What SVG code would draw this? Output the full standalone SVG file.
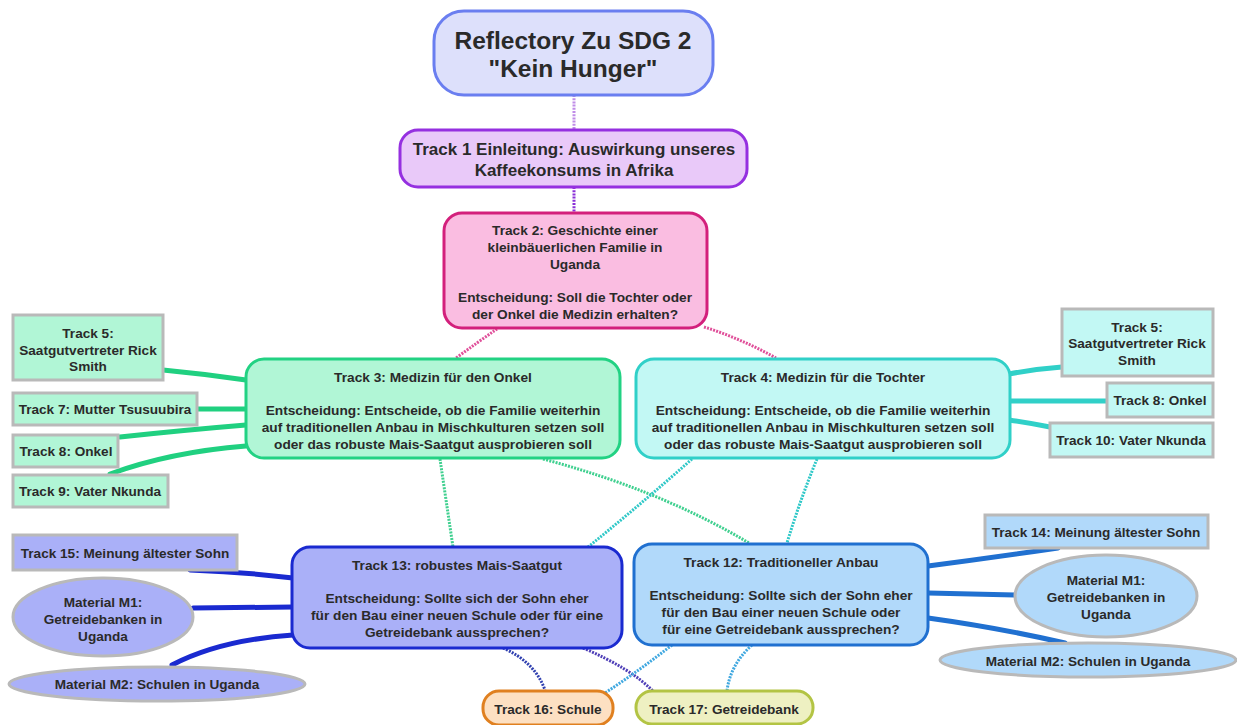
<svg xmlns="http://www.w3.org/2000/svg" width="1237" height="725" viewBox="0 0 1237 725">
<style>
text{font-family:"Liberation Sans",Arial,sans-serif;font-weight:bold;fill:#2a2a2a;text-anchor:middle;dominant-baseline:central}
.t{font-size:13.7px}
.s{font-size:13.6px}
.sat{stroke:#b9b9b9;stroke-width:3}
.dot{fill:none;stroke-width:3;stroke-dasharray:2 1.2}
.solid{fill:none;stroke-linecap:round}
</style>
<rect width="1237" height="725" fill="#ffffff"/>
<g id="connectors">
<line class="dot" x1="574" y1="95" x2="574" y2="130" stroke="#c08ce8"/>
<line class="dot" x1="574" y1="187" x2="574" y2="213" stroke="#8a30d8"/>
<path class="dot" d="M497,329 Q478,342 456,358" stroke="#e0509a"/>
<path class="dot" d="M704,327 Q740,338 776,358" stroke="#e0509a"/>
<path class="dot" d="M440,459 Q446,500 453,547" stroke="#40d090"/>
<path class="dot" d="M543,459 Q660,490 749,543" stroke="#40d090"/>
<path class="dot" d="M692,459 Q640,505 588,547" stroke="#30c8c8"/>
<path class="dot" d="M817,459 Q800,500 787,543" stroke="#30c8c8"/>
<path class="dot" d="M503,648 Q535,662 545,690" stroke="#3040b0"/>
<path class="dot" d="M583,648 Q630,668 653,691" stroke="#5040b8"/>
<path class="dot" d="M672,645 Q640,670 605,693" stroke="#40a8e0"/>
<path class="dot" d="M752,645 Q730,665 727,691" stroke="#40a8e0"/>
<g stroke="#20d080">
<path class="solid" d="M163,370 Q205,374 246,380" stroke-width="5"/>
<path class="solid" d="M197,409 L246,409" stroke-width="5"/>
<path class="solid" d="M120,437 Q185,430 246,425" stroke-width="5"/>
<path class="solid" d="M110,474 Q170,452 246,446" stroke-width="5"/>
</g>
<g stroke="#30d0c8">
<path class="solid" d="M1009,374 Q1035,369 1062,367" stroke-width="5"/>
<path class="solid" d="M1009,401 L1107,401" stroke-width="5"/>
<path class="solid" d="M1009,420 Q1030,423 1050,427" stroke-width="5"/>
</g>
<g stroke="#1a2ad0">
<path class="solid" d="M190,570 Q245,572 293,578" stroke-width="5"/>
<path class="solid" d="M193,608 L293,607" stroke-width="5"/>
<path class="solid" d="M172,665 Q220,640 293,635" stroke-width="5"/>
</g>
<g stroke="#2070d0">
<path class="solid" d="M928,566 Q990,558 1058,548" stroke-width="5"/>
<path class="solid" d="M928,593 L1015,595" stroke-width="5"/>
<path class="solid" d="M928,618 Q1000,628 1065,643" stroke-width="5"/>
</g>
</g>
<g id="title">
<rect x="434" y="11" width="279" height="84" rx="30" fill="#dde0fb" stroke="#6a7ef0" stroke-width="3"/>
<text x="573" y="40" font-size="24.5">Reflectory Zu SDG 2</text>
<text x="573" y="68" font-size="24.5">"Kein Hunger"</text>
</g>
<g id="track1">
<rect x="400" y="130" width="347" height="57" rx="18" fill="#e9c9f9" stroke="#9530e0" stroke-width="3"/>
<text x="574" y="149" font-size="17">Track 1 Einleitung: Auswirkung unseres</text>
<text x="574" y="170" font-size="17">Kaffeekonsums in Afrika</text>
</g>
<g id="track2">
<rect x="444" y="213" width="263" height="115" rx="18" fill="#fabde1" stroke="#d3207c" stroke-width="3"/>
<text class="t" x="575" y="230">Track 2: Geschichte einer</text>
<text class="t" x="575" y="247">kleinbäuerlichen Familie in</text>
<text class="t" x="575" y="264">Uganda</text>
<text class="t" x="575" y="297">Entscheidung: Soll die Tochter oder</text>
<text class="t" x="575" y="314">der Onkel die Medizin erhalten?</text>
</g>
<g id="track3">
<rect x="246" y="359" width="374" height="99" rx="18" fill="#b1f6d6" stroke="#22d283" stroke-width="3"/>
<text class="t" x="433" y="377">Track 3: Medizin für den Onkel</text>
<text class="t" x="433" y="410">Entscheidung: Entscheide, ob die Familie weiterhin</text>
<text class="t" x="433" y="427">auf traditionellen Anbau in Mischkulturen setzen soll</text>
<text class="t" x="433" y="444">oder das robuste Mais-Saatgut ausprobieren soll</text>
</g>
<g id="track4">
<rect x="636" y="359" width="374" height="99" rx="18" fill="#c2f8f4" stroke="#30d0c8" stroke-width="3"/>
<text class="t" x="823" y="377">Track 4: Medizin für die Tochter</text>
<text class="t" x="823" y="410">Entscheidung: Entscheide, ob die Familie weiterhin</text>
<text class="t" x="823" y="427">auf traditionellen Anbau in Mischkulturen setzen soll</text>
<text class="t" x="823" y="444">oder das robuste Mais-Saatgut ausprobieren soll</text>
</g>
<g id="t3-track5">
<rect class="sat" x="13" y="315" width="150" height="65" fill="#b1f6d6"/>
<text class="s" x="88" y="333">Track 5:</text>
<text class="s" x="88" y="350">Saatgutvertreter Rick</text>
<text class="s" x="88" y="366">Smith</text>
</g>
<g id="t3-track7">
<rect class="sat" x="13" y="393" width="184" height="32" fill="#b1f6d6"/>
<text class="s" x="105" y="409">Track 7: Mutter Tsusuubira</text>
</g>
<g id="t3-track8">
<rect class="sat" x="13" y="435" width="105" height="32" fill="#b1f6d6"/>
<text class="s" x="66" y="451">Track 8: Onkel</text>
</g>
<g id="t3-track9">
<rect class="sat" x="13" y="475" width="155" height="32" fill="#b1f6d6"/>
<text class="s" x="90" y="491">Track 9: Vater Nkunda</text>
</g>
<g id="t4-track5">
<rect class="sat" x="1062" y="309" width="151" height="67" fill="#c2f8f4"/>
<text class="s" x="1137" y="327">Track 5:</text>
<text class="s" x="1137" y="343">Saatgutvertreter Rick</text>
<text class="s" x="1137" y="360">Smith</text>
</g>
<g id="t4-track8">
<rect class="sat" x="1107" y="383" width="106" height="34" fill="#c2f8f4"/>
<text class="s" x="1160" y="400">Track 8: Onkel</text>
</g>
<g id="t4-track10">
<rect class="sat" x="1050" y="423" width="163" height="34" fill="#c2f8f4"/>
<text class="s" x="1131" y="440">Track 10: Vater Nkunda</text>
</g>
<g id="track13">
<rect x="292" y="547" width="330" height="101" rx="18" fill="#aab0f8" stroke="#1a2ad0" stroke-width="3"/>
<text class="t" x="457" y="565">Track 13: robustes Mais-Saatgut</text>
<text class="t" x="457" y="598">Entscheidung: Sollte sich der Sohn eher</text>
<text class="t" x="457" y="615">für den Bau einer neuen Schule oder für eine</text>
<text class="t" x="457" y="632">Getreidebank aussprechen?</text>
</g>
<g id="track12">
<rect x="634" y="544" width="294" height="101" rx="18" fill="#b1d9fa" stroke="#2070d0" stroke-width="3"/>
<text class="t" x="781" y="562">Track 12: Traditioneller Anbau</text>
<text class="t" x="781" y="595">Entscheidung: Sollte sich der Sohn eher</text>
<text class="t" x="781" y="612">für den Bau einer neuen Schule oder</text>
<text class="t" x="781" y="629">für eine Getreidebank aussprechen?</text>
</g>
<g id="t13-track15">
<rect class="sat" x="13" y="535" width="224" height="35" fill="#aab0f8"/>
<text class="s" x="125" y="553">Track 15: Meinung ältester Sohn</text>
</g>
<g id="t13-m1">
<ellipse class="sat" cx="103" cy="617" rx="90" ry="39" fill="#aab0f8"/>
<text class="s" x="103" y="602">Material M1:</text>
<text class="s" x="103" y="619">Getreidebanken in</text>
<text class="s" x="103" y="636">Uganda</text>
</g>
<g id="t13-m2">
<ellipse class="sat" cx="157" cy="684" rx="148" ry="17" fill="#aab0f8"/>
<text class="s" x="157" y="684">Material M2: Schulen in Uganda</text>
</g>
<g id="t12-track14">
<rect class="sat" x="985" y="515" width="223" height="33" fill="#b1d9fa"/>
<text class="s" x="1096" y="532">Track 14: Meinung ältester Sohn</text>
</g>
<g id="t12-m1">
<ellipse class="sat" cx="1106" cy="596" rx="91" ry="41" fill="#b1d9fa"/>
<text class="s" x="1106" y="580">Material M1:</text>
<text class="s" x="1106" y="597">Getreidebanken in</text>
<text class="s" x="1106" y="614">Uganda</text>
</g>
<g id="t12-m2">
<ellipse class="sat" cx="1088" cy="660" rx="148" ry="17" fill="#b1d9fa"/>
<text class="s" x="1088" y="661">Material M2: Schulen in Uganda</text>
</g>
<g id="track16">
<rect x="483" y="691" width="130" height="34" rx="16" fill="#fde0c2" stroke="#e08020" stroke-width="3"/>
<text class="s" x="548" y="709">Track 16: Schule</text>
</g>
<g id="track17">
<rect x="636" y="691" width="177" height="33" rx="16" fill="#eef0c2" stroke="#b3c444" stroke-width="3"/>
<text class="s" x="724" y="709">Track 17: Getreidebank</text>
</g>
</svg>
